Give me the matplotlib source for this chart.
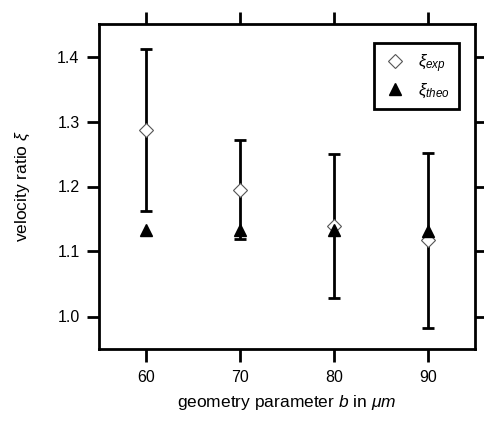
import matplotlib.pyplot as plt

plt.rcParams['font.family'] = ['Liberation Sans', 'DejaVu Sans']
plt.rcParams['mathtext.fontset'] = 'custom'
plt.rcParams['mathtext.rm'] = 'Liberation Sans'
plt.rcParams['mathtext.it'] = 'Liberation Sans:italic'

b = [60, 70, 80, 90]
xi_exp = [1.287, 1.195, 1.139, 1.117]
xi_err = [0.125, 0.076, 0.111, 0.135]
xi_theo = [1.133, 1.133, 1.133, 1.131]

fig = plt.figure(figsize=(4.85, 4.21), dpi=100)
ax = fig.add_axes([99 / 485, 1 - 349 / 421, 376 / 485, 325 / 421])

ax.errorbar(b, xi_exp, yerr=xi_err, fmt='none', ecolor='black',
            elinewidth=2, capsize=4.2, capthick=2, zorder=2)
ax.plot(b, xi_exp, 'D', mfc='white', mec='#555555', ms=7, mew=0.8,
        label=r'$\xi_{exp}$', zorder=3)
ax.plot(b, xi_theo, '^', color='black', ms=8.5, label=r'$\xi_{theo}$', zorder=4)

ax.set_xlim(55, 95)
ax.set_ylim(0.95, 1.45)
ax.set_xticks(b)
ax.set_yticks([1.0, 1.1, 1.2, 1.3, 1.4])
ax.set_yticklabels(['1.0', '1.1', '1.2', '1.3', '1.4'])
ax.tick_params(direction='out', length=9, width=2, labelsize=11.5,
               top=True, right=True)
ax.tick_params(axis='x', pad=6)
ax.tick_params(axis='y', pad=5)
for s in ax.spines.values():
    s.set_linewidth(2)

ax.set_xlabel(r'geometry parameter $b$ in $\mu m$', fontsize=12.5, labelpad=6)
ax.set_ylabel(r'velocity ratio $\xi$', fontsize=12.5, labelpad=18)

leg = ax.legend(loc='upper right', bbox_to_anchor=(0.957, 0.9415), fontsize=12,
                fancybox=False, edgecolor='black', framealpha=1,
                borderaxespad=0, handlelength=1.5, handletextpad=0.6,
                borderpad=0.55, labelspacing=0.4)
leg.get_frame().set_linewidth(2)

fig.savefig('out.png', dpi=100)
